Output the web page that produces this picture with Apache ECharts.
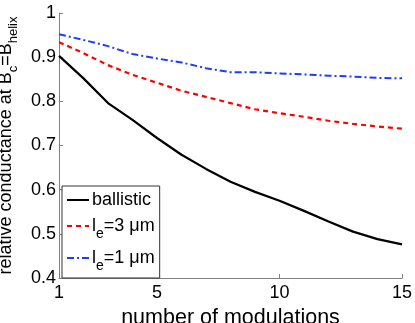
<!DOCTYPE html>
<html><head><meta charset="utf-8">
<script src="https://cdn.jsdelivr.net/npm/echarts@6/dist/echarts.min.js"></script>
<style>html,body{margin:0;padding:0;background:#fff}#c{width:415px;height:323px}</style>
</head><body><div id="c"></div>
<script>
var modulations = [1,2,3,4,5,6,7,8,9,10,11,12,13,14,15];
var ballistic = [0.903,0.852,0.796,0.758,0.717,0.679,0.647,0.618,0.595,0.575,0.552,0.528,0.505,0.488,0.476];
var le3 = [0.934,0.909,0.882,0.860,0.842,0.824,0.810,0.796,0.782,0.773,0.765,0.756,0.749,0.743,0.738];
var le1 = [0.952,0.939,0.925,0.907,0.897,0.888,0.875,0.866,0.866,0.863,0.861,0.858,0.856,0.853,0.852];
var xTicks = [1,5,10,15];
var seriesNames = ['ballistic','le3','le1'];

function pairs(v){ return modulations.map(function(x,i){return [x,v[i]];}); }
var font = 'Liberation Sans, Arial, sans-serif';
var chart = echarts.init(document.getElementById('c'), null, {renderer:'canvas'});
chart.setOption({
  animation:false,
  grid:{left:59, top:13, right:13, bottom:45, containLabel:false, outerBoundsMode:'none'},
  xAxis:{type:'value', min:1, max:15,
    axisLine:{show:true, lineStyle:{color:'#808080'}},
    axisTick:{show:true, inside:true, length:4, customValues:xTicks, lineStyle:{color:'#808080'}},
    axisLabel:{customValues:xTicks, color:'#000', fontSize:18, fontFamily:font, margin:6},
    splitLine:{show:false},
    name:'number of modulations', nameLocation:'middle', nameGap:23,
    nameTextStyle:{color:'#000', fontSize:21.5, fontFamily:font}
  },
  yAxis:{type:'value', min:0.4, max:1, interval:0.1,
    axisLine:{show:true, lineStyle:{color:'#808080'}},
    axisTick:{show:true, inside:true, length:4, lineStyle:{color:'#808080'}},
    axisLabel:{color:'#000', fontSize:18, fontFamily:font, margin:3,
      formatter:function(v){return String(Math.round(v*10)/10);}},
    splitLine:{show:false},
    name:'relative conductance at B{s|c}=B{s|helix}', nameLocation:'middle', nameGap:29,
    nameTextStyle:{color:'#000', fontSize:18, fontFamily:font,
      rich:{s:{fontSize:13, fontFamily:font, color:'#000', verticalAlign:'bottom', lineHeight:28}}}
  },
  legend:{show:true, orient:'vertical', left:62, top:186,
    data:seriesNames,
    itemWidth:22, itemHeight:10, itemGap:8,
    borderColor:'#333', borderWidth:1, padding:[5,5,5,4],
    backgroundColor:'#fff',
    itemStyle:{opacity:0},
    formatter:function(n){
      if(n==='ballistic') return 'ballistic';
      if(n==='le3') return 'l{s|e}=3 μm';
      return 'l{s|e}=1 μm';
    },
    textStyle:{color:'#000', fontSize:18, fontFamily:font, padding:[0,0,0,-2],
      rich:{s:{fontSize:14, fontFamily:font, color:'#000', verticalAlign:'bottom', lineHeight:30}}}
  },
  series:[
    {name:'ballistic', type:'line', data:pairs(ballistic), showSymbol:false, symbol:'none',
      lineStyle:{color:'#000', width:2.2, type:'solid'}, itemStyle:{color:'#000'}},
    {name:'le3', type:'line', data:pairs(le3), showSymbol:false, symbol:'none',
      lineStyle:{color:'#ff0000', width:2.2, type:[5,4]}, itemStyle:{color:'#ff0000'}},
    {name:'le1', type:'line', data:pairs(le1), showSymbol:false, symbol:'none',
      lineStyle:{color:'#1e3cff', width:2, type:[7,3,2,3]}, itemStyle:{color:'#1e3cff'}}
  ]
});
</script></body></html>
